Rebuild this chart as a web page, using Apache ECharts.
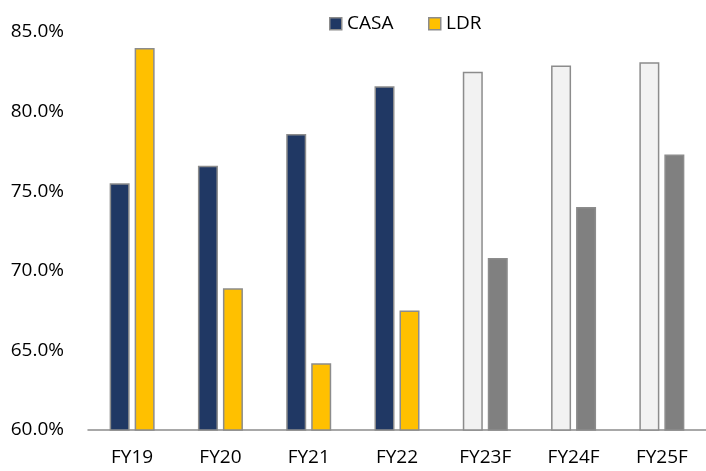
<!DOCTYPE html>
<html>
<head>
<meta charset="utf-8">
<script src="https://cdn.jsdelivr.net/npm/echarts@6/dist/echarts.min.js"></script>
<style>
  html, body { margin: 0; padding: 0; background: #fff; }
  #chart { width: 706px; height: 471px; }
</style>
</head>
<body>
<div id="chart"></div>
<script>
// 数据
const categories = ['FY19', 'FY20', 'FY21', 'FY22', 'FY23F', 'FY24F', 'FY25F'];
const casaValues = [75.5, 76.6, 78.6, 81.6, 82.5, 82.9, 83.1];
const ldrValues = [84.0, 68.9, 64.2, 67.5, 70.8, 74.0, 77.3];
const forecastFrom = 4; // FY23F 起为预测

const border = '#8c8c8c';
const casaColor = '#203864';
const ldrColor = '#ffc000';

// 实际值 / 预测值拆开，同一堆叠组内保持同一柱位
const actual = values => values.map((v, i) => (i < forecastFrom ? v : null));
const forecast = values => values.map((v, i) => (i >= forecastFrom ? v : null));

function barSeries(name, stack, data, color) {
  return {
    name,
    type: 'bar',
    stack,
    barWidth: 20,
    barGap: '25%',
    itemStyle: { color, borderColor: border, borderWidth: 1.5 },
    data
  };
}

// 图例（手动绘制）
function legendItem(x, label, color) {
  return [
    {
      type: 'rect',
      left: x,
      top: 17,
      shape: { width: 12, height: 12 },
      style: { fill: color, stroke: border, lineWidth: 1.5 }
    },
    {
      type: 'text',
      left: x + 18,
      top: 14,
      style: { text: label, fill: '#000', font: '19px "Open Sans"' }
    }
  ];
}

const chart = echarts.init(document.getElementById('chart'));

const option = {
  backgroundColor: '#fff',
  animation: false,
  textStyle: { fontFamily: 'Open Sans' },
  graphic: [
    ...legendItem(329, 'CASA', casaColor),
    ...legendItem(428, 'LDR', ldrColor)
  ],
  grid: {
    left: 88,
    right: 0,
    top: 32,
    bottom: 41
  },
  xAxis: {
    type: 'category',
    data: categories,
    axisLine: { lineStyle: { color: border, width: 1.5 } },
    axisTick: { show: false },
    axisLabel: { color: '#000', fontSize: 19, margin: 18 }
  },
  yAxis: {
    type: 'value',
    min: 60,
    max: 85,
    interval: 5,
    axisLine: { show: false },
    axisTick: { show: false },
    splitLine: { show: false },
    axisLabel: {
      color: '#000',
      fontSize: 19,
      margin: 24,
      formatter: v => v.toFixed(1) + '%'
    }
  },
  series: [
    barSeries('CASA', 'casa', actual(casaValues), casaColor),
    barSeries('LDR', 'ldr', actual(ldrValues), ldrColor),
    barSeries('CASA预测', 'casa', forecast(casaValues), '#f2f2f2'),
    barSeries('LDR预测', 'ldr', forecast(ldrValues), '#808080')
  ]
};

chart.setOption(option);
</script>
</body>
</html>
